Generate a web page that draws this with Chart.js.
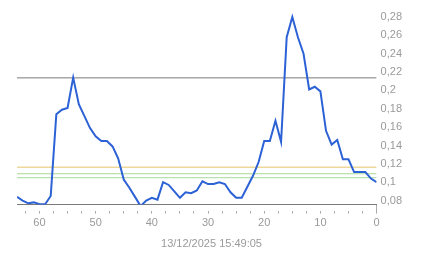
<!DOCTYPE html>
<html>
<head>
<meta charset="utf-8">
<script src="https://cdn.jsdelivr.net/npm/chart.js@4.4.1/dist/chart.umd.min.js"></script>
<style>
html,body{margin:0;padding:0;background:#fff;}
#wrap{width:443px;height:258px;position:relative;}
</style>
</head>
<body>
<div id="wrap"><canvas id="c" width="443" height="258"></canvas></div>
<script>
// Data
const xValues = [64,63,62,61,60,59,58,57,56,55,54,53,52,51,50,49,48,47,46,45,44,43,42,41,40,39,38,37,36,35,34,33,32,31,30,29,28,27,26,25,24,23,22,21,20,19,18,17,16,15,14,13,12,11,10,9,8,7,6,5,4,3,2,1,0];
const seriesValues = [0.084,0.080,0.077,0.078,0.076,0.076,0.085,0.174,0.179,0.181,0.214,0.185,0.172,0.159,0.150,0.145,0.145,0.139,0.126,0.103,0.094,0.084,0.074,0.080,0.083,0.081,0.100,0.097,0.090,0.083,0.089,0.088,0.091,0.101,0.098,0.098,0.100,0.098,0.089,0.083,0.083,0.095,0.107,0.122,0.145,0.145,0.167,0.144,0.258,0.280,0.258,0.240,0.201,0.204,0.199,0.156,0.141,0.146,0.125,0.125,0.111,0.111,0.111,0.104,0.100];
const refHigh = 0.2137;
const refOrange = 0.1164;
const refGreen1 = 0.1092;
const refGreen2 = 0.1049;
const yTickValues = [0.08,0.10,0.12,0.14,0.16,0.18,0.20,0.22,0.24,0.26,0.28];
const xTickValues = [0,2.5,5,7.5,10,12.5,15,17.5,20,22.5,25,27.5,30,32.5,35,37.5,40,42.5,45,47.5,50,52.5,55,57.5,60,62.5];
const xLabelValues = [0,10,20,30,40,50,60];
const timestamp = '13/12/2025 15:49:05';

const xMin = 0, xMax = 64;
const yMin = 0.0756, yMax = 0.287;

function refLine(v, color){
  return {
    data: [{x:xMin,y:v},{x:xMax,y:v}],
    borderColor: color, borderWidth: 1, pointRadius: 0, tension: 0, order: 2
  };
}

const mainData = xValues.map((x,i)=>({x:x,y:seriesValues[i]}));

new Chart(document.getElementById('c'), {
  type: 'line',
  data: {
    datasets: [
      {data: mainData, borderColor:'#2c62d6', borderWidth:2, pointRadius:0, tension:0, order:1},
      refLine(refHigh,'#7a7a7a'),
      refLine(refOrange,'#e3c467'),
      refLine(refGreen1,'#a9d993'),
      refLine(refGreen2,'#a8d9a0')
    ]
  },
  options: {
    responsive:false, animation:false, devicePixelRatio:1,
    layout:{padding:{left:17,right:37,top:0,bottom:2}},
    plugins:{
      legend:{display:false},
      tooltip:{enabled:false},
      title:{display:true, position:'bottom', text:timestamp, color:'#9a9a9a',
        font:{family:'Liberation Sans, Arial, sans-serif', size:11, weight:'normal'}, padding:{top:5,bottom:5}}
    },
    scales:{
      x:{
        type:'linear', reverse:true, min:xMin, max:xMax,
        afterBuildTicks:(s)=>{s.ticks = xTickValues.map(v=>({value:v}));},
        ticks:{
          autoSkip:false, maxRotation:0, padding:3, color:'#9a9a9a',
          font:{family:'Liberation Sans, Arial, sans-serif', size:11},
          callback:(v)=> xLabelValues.includes(v) ? String(v) : ''
        },
        grid:{display:true, drawOnChartArea:false, tickLength:9, tickColor:'#aaaaaa',
          tickBorderDash:(ctx)=> (ctx.tick && ctx.tick.value===0) ? [] : [0,6,3,10]},
        border:{display:true, color:'#7a7a7a', width:1}
      },
      y:{
        position:'right', min:yMin, max:yMax,
        afterBuildTicks:(s)=>{s.ticks = yTickValues.map(v=>({value:v}));},
        ticks:{padding:4, color:'#9a9a9a',
          font:{family:'Liberation Sans, Arial, sans-serif', size:11},
          callback:(v)=> String(Number(v.toFixed(2))).replace('.',',')
        },
        grid:{display:false, drawTicks:false},
        border:{display:false}
      }
    }
  }
});
</script>
</body>
</html>
